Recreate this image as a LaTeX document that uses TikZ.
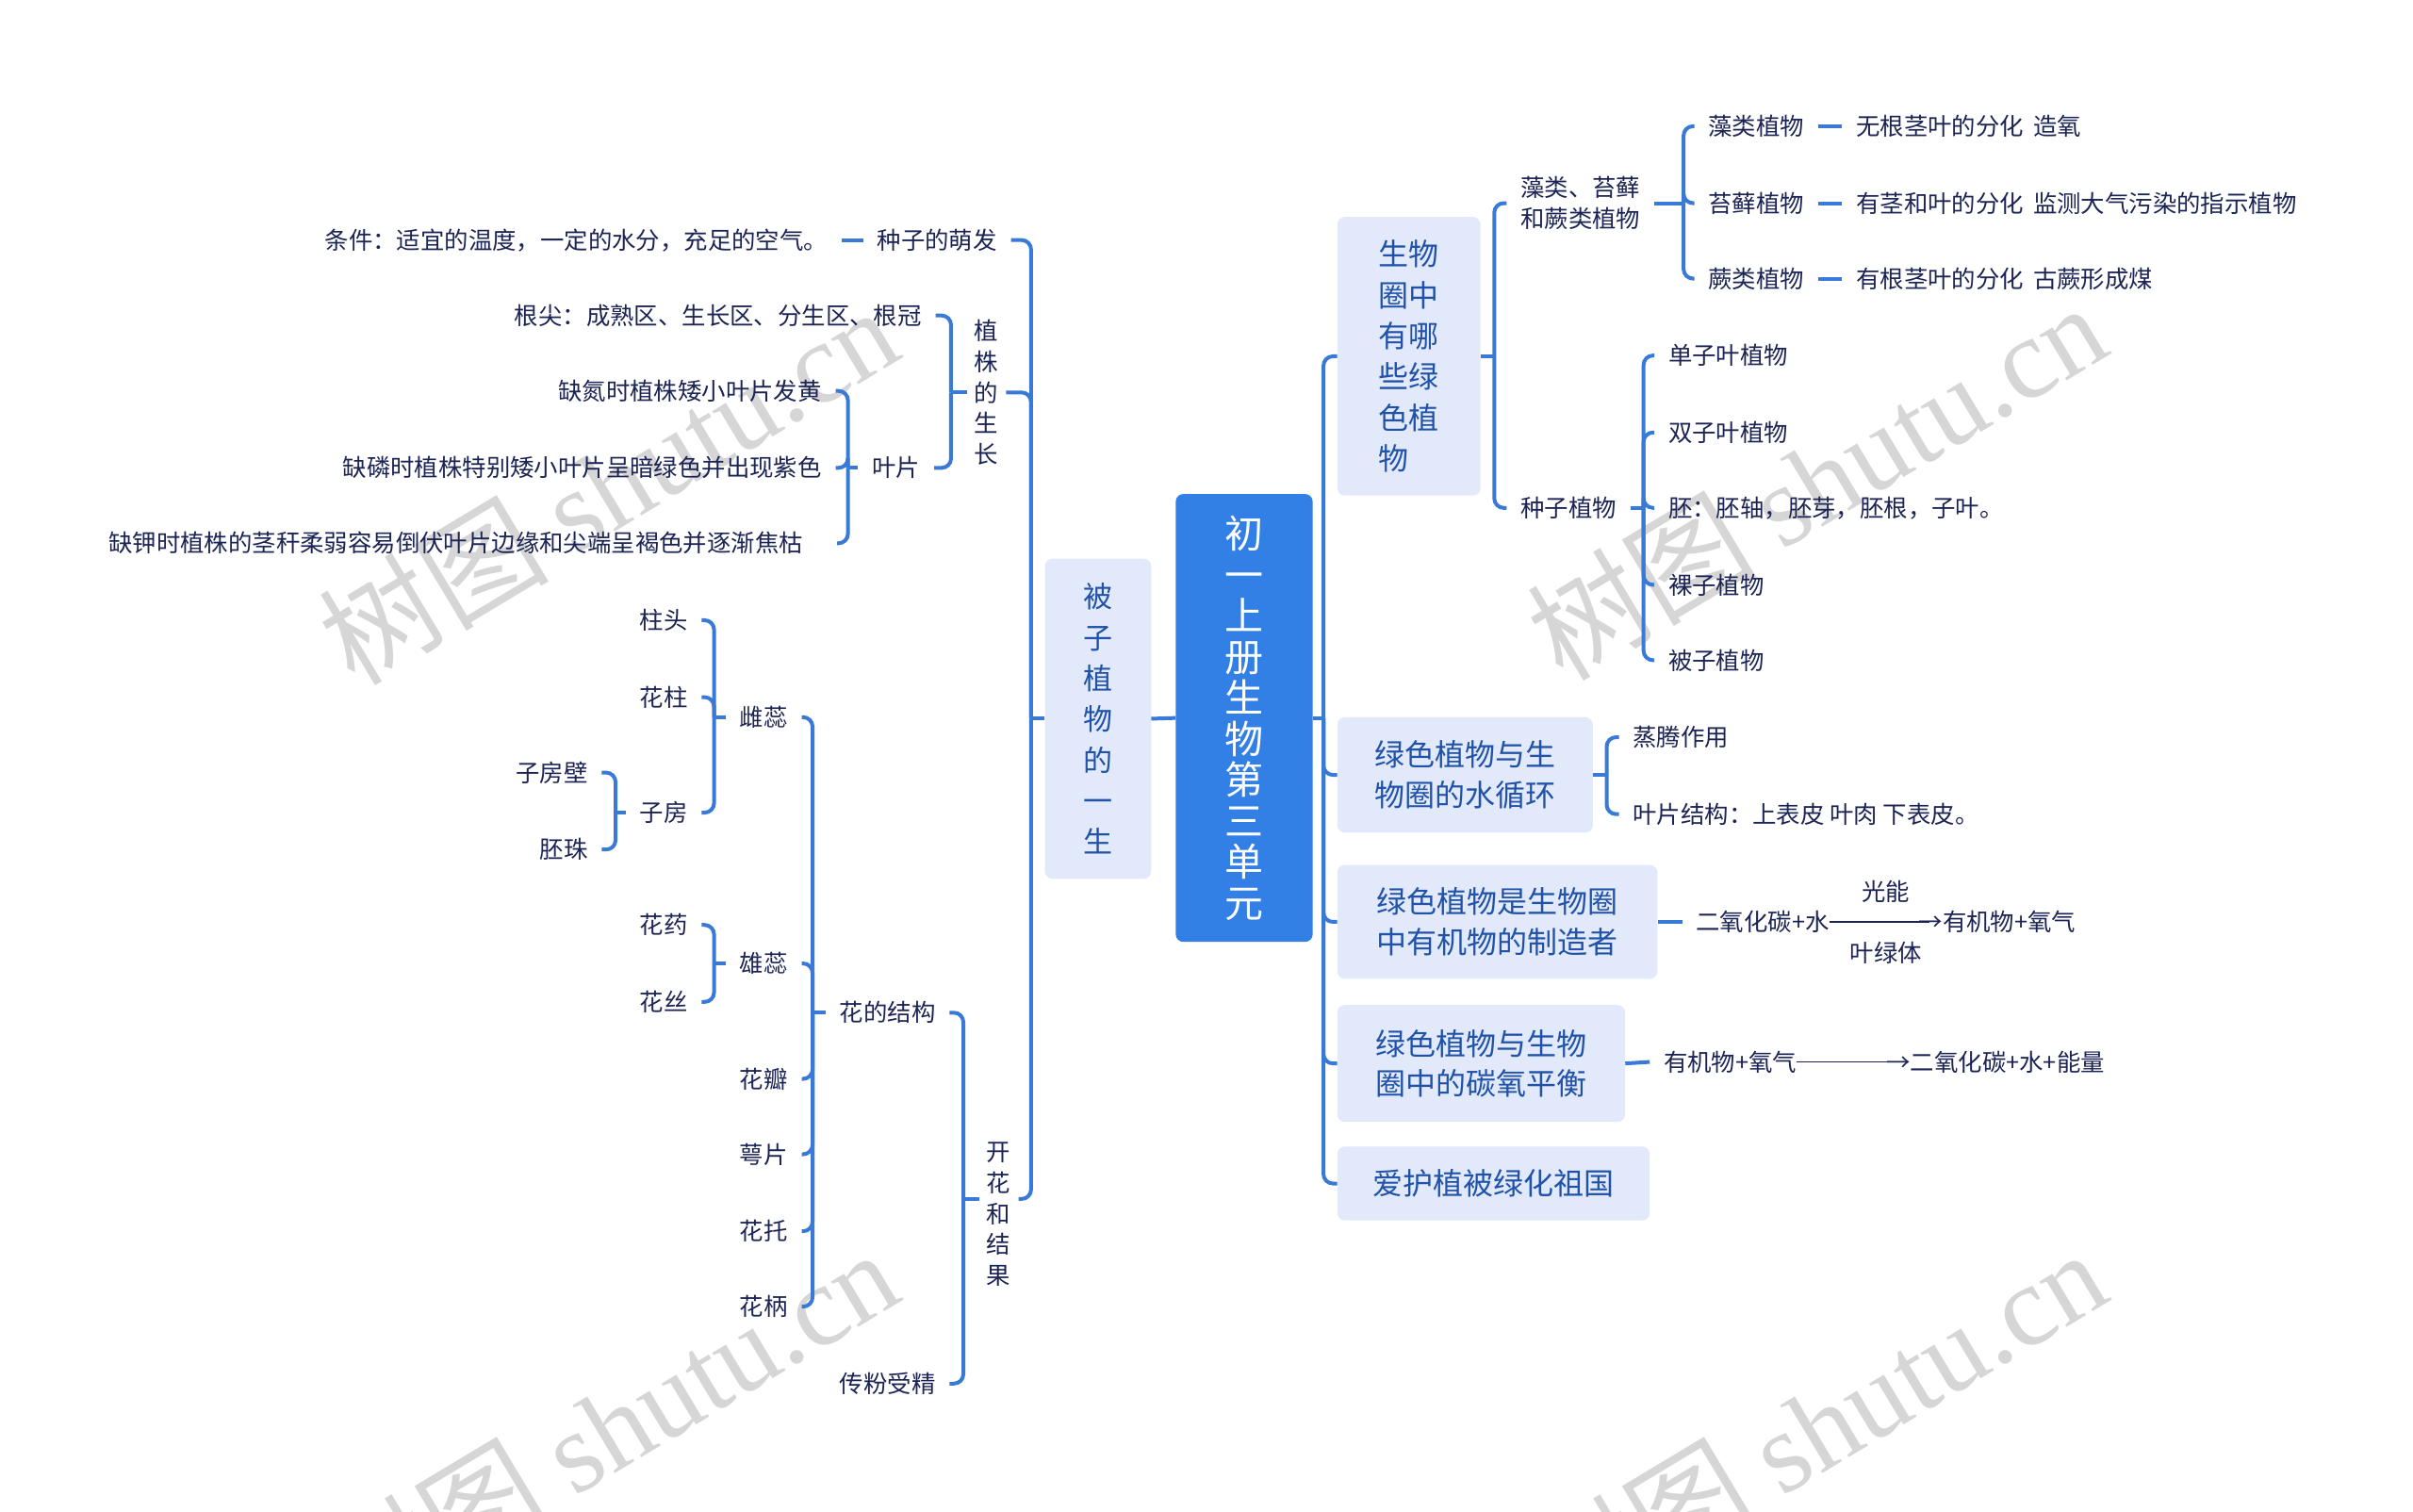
\documentclass[tikz,border=0pt]{standalone}
\usepackage{fontspec}
\setmainfont{Noto Sans CJK SC}
\newfontfamily\wmlatin{Liberation Serif}
\definecolor{lineblue}{RGB}{56,122,214}
\definecolor{rootblue}{RGB}{50,128,230}
\definecolor{boxfill}{RGB}{225,233,251}
\definecolor{boxtext}{RGB}{32,82,168}
\definecolor{leaftext}{RGB}{28,36,84}
\definecolor{wmgray}{RGB}{214,214,214}
\newcommand{\longarrow}[1]{\rule[0.36em]{#1}{0.06em}\kern-0.45em→}
\begin{document}
\begin{tikzpicture}[x=1.6327pt,y=-1.6327pt,
 conn/.style={draw=lineblue,line width=4pt,rounded corners=10pt},
 leaf/.style={text=leaftext,font=\fontsize{25.4pt}{32.6pt}\selectfont,inner xsep=14.7pt,inner ysep=2pt},
 leafL/.style={leaf,anchor=east,align=right},
 leafR/.style={leaf,anchor=west,align=left},
 vleaf/.style={leaf,align=center,inner xsep=8pt},
 topic/.style={fill=boxfill,rounded corners=8pt,text=boxtext,font=\fontsize{32pt}{42.5pt}\selectfont,align=left,inner sep=0pt},
 rootbox/.style={fill=rootblue,rounded corners=8pt,text=white,font=\fontsize{41pt}{43.5pt}\selectfont,align=center,inner sep=0pt,minimum width=145.3pt,minimum height=475.1pt},
 wm/.style={text=wmgray,rotate=31,font=\fontsize{122pt}{122pt}\selectfont}
]
\fill[white] (0,0) rectangle (1568,982.4);
\useasboundingbox (0,0) rectangle (1568,982.4);

% watermarks
\node[wm] (wm1) at (395,315) {树图 {\wmlatin shutu.cn}};
\node[wm] (wm2) at (1180,312) {树图 {\wmlatin shutu.cn}};
\node[wm] (wm3) at (395,927) {树图 {\wmlatin shutu.cn}};
\node[wm] (wm4) at (1180,927) {树图 {\wmlatin shutu.cn}};

% bracket line positions
\coordinate (L0) at (670,0);
\coordinate (Lzz) at (618,0);
\coordinate (Lyp) at (551,0);
\coordinate (Lkh) at (626,0);
\coordinate (Lhj) at (528,0);
\coordinate (Lcr) at (464,0);
\coordinate (Lzf) at (400,0);
\coordinate (Lxr) at (464,0);
\coordinate (R0) at (860,0);
\coordinate (RA) at (971,0);
\coordinate (Rzl) at (1094,0);
\coordinate (Rzz) at (1068,0);
\coordinate (RB) at (1044,0);

% root and topics
\node[rootbox] (root) at (808.5,466.5) {初\\一\\上\\册\\生\\物\\第\\三\\单\\元};
\node[topic,align=center,minimum width=112.7pt,minimum height=339.6pt,font=\fontsize{31pt}{43.3pt}\selectfont] (beizi) at (713.5,467) {被\\子\\植\\物\\的\\一\\生};
\node[topic,minimum width=151.8pt,minimum height=295.5pt,font=\fontsize{32pt}{43.4pt}\selectfont] (qA) at (915.5,231.5) {生物\\圈中\\有哪\\些绿\\色植\\物};
\node[topic,minimum width=271pt,minimum height=122.5pt] (qB) at (952,503.5) {绿色植物与生\\物圈的水循环};
\node[topic,minimum width=339.6pt,minimum height=120.8pt] (qC) at (973,599) {绿色植物是生物圈\\中有机物的制造者};
\node[topic,minimum width=305.3pt,minimum height=124pt] (qD) at (962.5,691) {绿色植物与生物\\圈中的碳氧平衡};
\node[topic,minimum width=331.4pt,minimum height=78.4pt] (qE) at (970.5,769) {爱护植被绿化祖国};

% left side nodes
\node[leafL] (tiaojian) at (547,156) {条件：适宜的温度，一定的水分，充足的空气。};
\node[leafL] (mengfa) at (657,156) {种子的萌发};
\node[vleaf] (zhizhu) at (641,255) {植\\株\\的\\生\\长};
\node[leafL] (genjian) at (608,205) {根尖：成熟区、生长区、分生区、根冠};
\node[leafL] (yepian) at (607,304) {叶片};
\node[leafL] (quedan) at (543,254) {缺氮时植株矮小叶片发黄};
\node[leafL] (quelin) at (543,304) {缺磷时植株特别矮小叶片呈暗绿色并出现紫色};
\node[leafL,inner xsep=36pt] (quejia) at (544,353) {缺钾时植株的茎秆柔弱容易倒伏叶片边缘和尖端呈褐色并逐渐焦枯};
\node[vleaf] (kaihua) at (649,789) {开\\花\\和\\结\\果};
\coordinate (kh) at ([yshift=16.3pt]kaihua.center);
\node[leafL] (huajiegou) at (617,658) {花的结构};
\node[leafL] (chuanfen) at (617,899) {传粉受精};
\node[leafL] (cirui) at (521,466) {雌蕊};
\node[leafL] (xiongrui) at (521,626) {雄蕊};
\node[leafL] (huaban) at (521,701) {花瓣};
\node[leafL] (eipian) at (521,750) {萼片};
\node[leafL] (huatuo) at (521,800) {花托};
\node[leafL] (huabing) at (521,849) {花柄};
\node[leafL] (zhutou) at (456,403) {柱头};
\node[leafL] (huazhu) at (456,453) {花柱};
\node[leafL] (zifang) at (456,528) {子房};
\node[leafL] (zifangbi) at (391,502) {子房壁};
\node[leafL] (peizhu) at (391,552) {胚珠};
\node[leafL] (huayao) at (456,601) {花药};
\node[leafL] (huasi) at (456,651) {花丝};

% right side nodes
\node[leafR] (zaolei) at (979,132) {藻类、苔藓\\和蕨类植物};
\node[leafR] (zhongzi) at (979,330) {种子植物};
\node[leafR] (zaoleizw) at (1101,82) {藻类植物};
\node[leafR] (taixian) at (1101,132) {苔藓植物};
\node[leafR] (juelei) at (1101,181) {蕨类植物};
\node[leafR] (wugen) at (1197,82) {无根茎叶的分化\hspace{0.4em}造氧};
\node[leafR] (youjing) at (1197,132) {有茎和叶的分化\hspace{0.4em}监测大气污染的指示植物};
\node[leafR] (yougen) at (1197,181) {有根茎叶的分化\hspace{0.4em}古蕨形成煤};
\node[leafR] (danzi) at (1075,231) {单子叶植物};
\node[leafR] (shuangzi) at (1075,281) {双子叶植物};
\node[leafR] (pei) at (1075,330) {胚：胚轴，胚芽，胚根，子叶。};
\node[leafR] (luozi) at (1075,380) {裸子植物};
\node[leafR] (beizizw) at (1075,429) {被子植物};
\node[leafR] (zhengteng) at (1052,479) {蒸腾作用};
\node[leafR] (yepianjg) at (1052,529) {叶片结构：上表皮 叶肉 下表皮。};
\node[leafR,align=center] (photo) at (1093,599) {光能\\二氧化碳+水\longarrow{4.2em}有机物+氧气\\叶绿体};
\node[leafR] (resp) at (1072,690) {有机物+氧气\longarrow{4.2em}二氧化碳+水+能量};

% ---- connectors, left ----
\draw[conn] (root.west) -- (beizi.east);
\draw[conn] (beizi.west) -- (beizi.west -| L0);
\draw[conn] (beizi.west -| L0) |- (mengfa.east);
\draw[conn] (beizi.west -| L0) |- (zhizhu.east);
\draw[conn] (beizi.west -| L0) |- (kh -| kaihua.east);
\draw[conn] (mengfa.west) -- (tiaojian.east);

\draw[conn] (zhizhu.west) -- (zhizhu.west -| Lzz);
\draw[conn] (zhizhu.west -| Lzz) |- (genjian.east);
\draw[conn] (zhizhu.west -| Lzz) |- (yepian.east);

\draw[conn] (yepian.west) -- (yepian.west -| Lyp);
\draw[conn] (yepian.west -| Lyp) |- (quedan.east);
\draw[conn] (yepian.west -| Lyp) |- (quelin.east);
\draw[conn] (yepian.west -| Lyp) |- (quejia.east);

\draw[conn] (kh -| kaihua.west) -- (kh -| Lkh);
\draw[conn] (kh -| Lkh) |- (huajiegou.east);
\draw[conn] (kh -| Lkh) |- (chuanfen.east);

\draw[conn] (huajiegou.west) -- (huajiegou.west -| Lhj);
\foreach \c in {cirui,xiongrui,huaban,eipian,huatuo,huabing}
  \draw[conn] (huajiegou.west -| Lhj) |- (\c.east);

\draw[conn] (cirui.west) -- (cirui.west -| Lcr);
\foreach \c in {zhutou,huazhu,zifang}
  \draw[conn] (cirui.west -| Lcr) |- (\c.east);

\draw[conn] (zifang.west) -- (zifang.west -| Lzf);
\foreach \c in {zifangbi,peizhu}
  \draw[conn] (zifang.west -| Lzf) |- (\c.east);

\draw[conn] (xiongrui.west) -- (xiongrui.west -| Lxr);
\foreach \c in {huayao,huasi}
  \draw[conn] (xiongrui.west -| Lxr) |- (\c.east);

% ---- connectors, right ----
\draw[conn] (root.east) -- (root.east -| R0);
\foreach \c in {qA,qB,qC,qD,qE}
  \draw[conn] (root.east -| R0) |- (\c.west);

\draw[conn] (qA.east) -- (qA.east -| RA);
\foreach \c in {zaolei,zhongzi}
  \draw[conn] (qA.east -| RA) |- (\c.west);

\draw[conn] (zaolei.east) -- (zaolei.east -| Rzl);
\foreach \c in {zaoleizw,taixian,juelei}
  \draw[conn] (zaolei.east -| Rzl) |- (\c.west);
\draw[conn] (zaoleizw.east) -- (wugen.west);
\draw[conn] (taixian.east) -- (youjing.west);
\draw[conn] (juelei.east) -- (yougen.west);

\draw[conn] (zhongzi.east) -- (zhongzi.east -| Rzz);
\foreach \c in {danzi,shuangzi,pei,luozi,beizizw}
  \draw[conn] (zhongzi.east -| Rzz) |- (\c.west);

\draw[conn] (qB.east) -- (qB.east -| RB);
\foreach \c in {zhengteng,yepianjg}
  \draw[conn] (qB.east -| RB) |- (\c.west);

\draw[conn] (qC.east) -- (photo.west);
\draw[conn] (qD.east) -- (resp.west);
\end{tikzpicture}
\end{document}
